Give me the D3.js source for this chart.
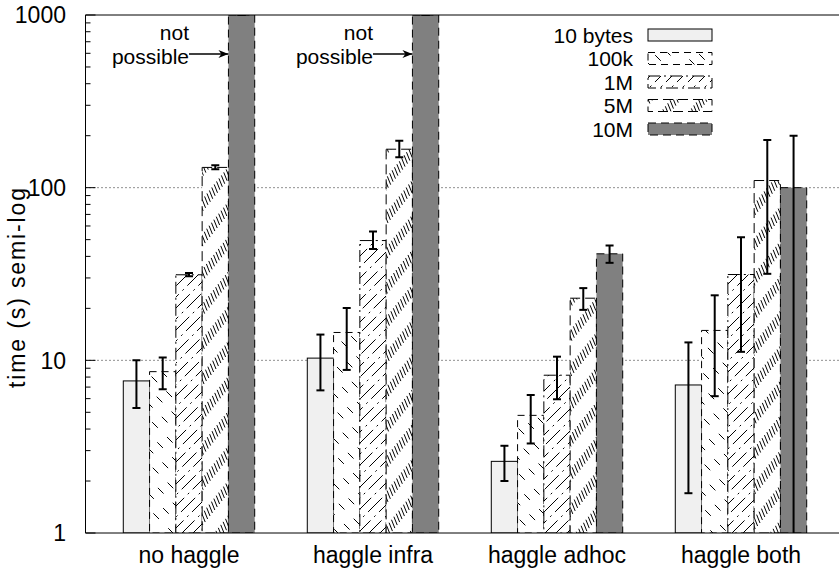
<!DOCTYPE html>
<html><head><meta charset="utf-8">
<script src="https://cdn.jsdelivr.net/npm/d3@7"></script>
<style>body{margin:0;background:#fff}svg{display:block;font-family:"Liberation Sans",Arial,Helvetica,sans-serif}</style>
</head><body><svg id="c" width="839" height="572"></svg>
<script>
// ---------- data ----------
const categories = ["no haggle", "haggle infra", "haggle adhoc", "haggle both"];
const seriesNames = ["10 bytes", "100k", "1M", "5M", "10M"];
const val10b  = [7.6, 10.3, 2.6, 7.2];
const val100k = [8.6, 14.5, 4.8, 14.9];
const val1M   = [31.3, 49.4, 8.2, 31.4];
const val5M   = [131, 167, 22.9, 110];
const val10M  = [1000, 1000, 41.4, 100];
const lo10b  = [5.3, 6.7, 2.0, 1.7];
const lo100k = [6.8, 8.8, 3.3, 6.2];
const lo1M   = [30.7, 44.2, 5.95, 11.2];
const lo5M   = [128, 150, 19.6, 31.7];
const lo10M  = [1000, 1000, 36.7, 0.5];
const hi10b  = [10, 14.1, 3.2, 12.7];
const hi100k = [10.4, 20.1, 6.3, 23.8];
const hi1M   = [32, 55.7, 10.5, 51.6];
const hi5M   = [135, 187, 26.2, 189];
const hi10M  = [1000, 1000, 46.2, 200];
const yTickValues = [1, 10, 100, 1000];
const yTickLabels = ["1", "10", "100", "1000"];
const yAxisTitle = "time (s) semi-log";
const noteText = ["not", "possible"];
const noteCats = [0, 1];

const values = [val10b, val100k, val1M, val5M, val10M];
const lows = [lo10b, lo100k, lo1M, lo5M, lo10M];
const highs = [hi10b, hi100k, hi1M, hi5M, hi10M];

// ---------- styles ----------
const styles = [
  {fill: "#f0f0f0", dash: null, hatch: null},
  {fill: "#ffffff", dash: "7,5", hatch: {k: 1, sp: 15, dash: "8,13", sw: 1, shift: 0.5}},
  {fill: "#ffffff", dash: "12,4,2,4", hatch: {k: -1, sp: 11, dash: "20,5,2,5", sw: 1}},
  {fill: "#ffffff", dash: "10,5", hatch: {k: 0.4, sp: 3.6, dash: "9,16", sw: 1, shift: 0.9}},
  {fill: "#808080", dash: "8,5", hatch: null}
];

const svg = d3.select("#c");
const FS = 23, FS2 = 21;
const pTop = 15, pBottom = 533, pLeft = 85.5;
const W = 839;

const y = d3.scaleLog().domain([1, 1000]).range([pBottom, pTop]);
const x = d3.scaleLinear().domain([-0.5625, 3.6]).range([pLeft, pLeft + 184 * 4.1625]);
const bw = (x(1) - x(0)) / 7;

const defs = svg.append("defs");
const plotClip = defs.append("clipPath").attr("id", "plotclip");
plotClip.append("rect").attr("x", pLeft).attr("y", pTop).attr("width", 900).attr("height", pBottom - pTop);

// grid
const grid = svg.append("g");
[10, 100].forEach(v => {
  grid.append("line").attr("x1", pLeft).attr("x2", 900).attr("y1", y(v)).attr("y2", y(v))
    .attr("stroke", "#222").attr("stroke-width", 1).attr("stroke-dasharray", "1,3");
});

let clipCount = 0;
function drawBox(g, x0, y0, w, h, st) {
  g.append("rect").attr("x", x0).attr("y", y0).attr("width", w).attr("height", h)
    .attr("fill", st.fill).attr("stroke", "none");
  if (st.hatch) {
    const hs = st.hatch;
    const id = "hc" + (clipCount++);
    defs.append("clipPath").attr("id", id).append("rect")
      .attr("x", x0).attr("y", y0).attr("width", w).attr("height", h);
    const hg = g.append("g").attr("clip-path", `url(#${id})`);
    const corners = [[x0, y0], [x0 + w, y0], [x0, y0 + h], [x0 + w, y0 + h]].map(p => p[0] - hs.k * p[1]);
    const cmin = Math.floor(d3.min(corners) / hs.sp) * hs.sp, cmax = d3.max(corners);
    const lf = Math.sqrt(1 + hs.k * hs.k);
    const period = hs.dash.split(",").map(Number).reduce((a, b) => a + b, 0);
    for (let c = cmin; c <= cmax + hs.sp; c += hs.sp) {
      const ya = y0 - 2, yb = y0 + h + 2;
      const off = ((ya * lf + (hs.shift || 0) * c) % period + period) % period;
      hg.append("line")
        .attr("x1", c + hs.k * ya).attr("y1", ya)
        .attr("x2", c + hs.k * yb).attr("y2", yb)
        .attr("stroke", "#000").attr("stroke-width", hs.sw)
        .attr("stroke-dasharray", hs.dash).attr("stroke-dashoffset", off);
    }
  }
  g.append("rect").attr("x", x0).attr("y", y0).attr("width", w).attr("height", h)
    .attr("fill", "none").attr("stroke", "#000").attr("stroke-width", 1)
    .attr("stroke-dasharray", st.dash);
}

// bars
const barsG = svg.append("g").attr("clip-path", "url(#plotclip)");
seriesNames.forEach((s, j) => {
  categories.forEach((c, i) => {
    const v = values[j][i];
    const x0 = x(i) + (j - 2.5) * bw;
    drawBox(barsG, x0, y(v), bw, pBottom - y(v), styles[j]);
  });
});

// error bars
const errG = svg.append("g").attr("clip-path", "url(#plotclip)");
seriesNames.forEach((s, j) => {
  categories.forEach((c, i) => {
    const cx = x(i) + (j - 2) * bw;
    const y1 = y(Math.max(lows[j][i], 0.1)), y2 = y(highs[j][i]);
    errG.append("line").attr("x1", cx).attr("x2", cx).attr("y1", y1).attr("y2", y2)
      .attr("stroke", "#000").attr("stroke-width", 2);
    [y1, y2].forEach(yy => errG.append("line").attr("x1", cx - 4).attr("x2", cx + 4)
      .attr("y1", yy).attr("y2", yy).attr("stroke", "#000").attr("stroke-width", 2));
  });
});

// frame
svg.append("line").attr("x1", pLeft).attr("x2", W).attr("y1", pTop).attr("y2", pTop).attr("stroke", "#000");
svg.append("line").attr("x1", pLeft).attr("x2", W).attr("y1", pBottom).attr("y2", pBottom).attr("stroke", "#000");
svg.append("line").attr("x1", pLeft).attr("x2", pLeft).attr("y1", pTop).attr("y2", pBottom).attr("stroke", "#000");

// y ticks
const tg = svg.append("g");
for (let d = 0; d < 3; d++) {
  for (let m = 2; m <= 9; m++) {
    const v = m * Math.pow(10, d);
    tg.append("line").attr("x1", pLeft).attr("x2", pLeft + 5).attr("y1", y(v)).attr("y2", y(v)).attr("stroke", "#000");
  }
}
yTickValues.forEach((v, i) => {
  tg.append("line").attr("x1", pLeft).attr("x2", pLeft + 10).attr("y1", y(v)).attr("y2", y(v)).attr("stroke", "#000");
  tg.append("text").attr("x", 66).attr("y", y(v)).attr("dy", "0.36em").attr("text-anchor", "end")
    .attr("font-size", FS).text(yTickLabels[i]);
});

// x labels
categories.forEach((c, i) => {
  svg.append("text").attr("x", x(i)).attr("y", 563).attr("text-anchor", "middle")
    .attr("font-size", FS).text(c);
});

// y title
svg.append("text").attr("transform", `translate(25,288) rotate(-90)`)
  .attr("text-anchor", "middle").attr("font-size", FS)
  .attr("textLength", 200).attr("lengthAdjust", "spacing").text(yAxisTitle);

// annotations
defs.append("marker").attr("id", "arr").attr("viewBox", "0 0 10 10").attr("refX", 10).attr("refY", 5)
  .attr("markerWidth", 14).attr("markerHeight", 10).attr("markerUnits", "userSpaceOnUse").attr("orient", "auto")
  .append("path").attr("d", "M0,1 L10,5 L0,9 L3,5 Z").attr("fill", "#000");
noteCats.forEach(i => {
  const tx = x(i);
  svg.append("text").attr("x", tx).attr("y", 39.5).attr("text-anchor", "end").attr("font-size", FS2).text(noteText[0]);
  svg.append("text").attr("x", tx).attr("y", 63.5).attr("text-anchor", "end").attr("font-size", FS2).text(noteText[1]);
  svg.append("line").attr("x1", tx).attr("x2", x(i) + 1.5 * bw).attr("y1", 54).attr("y2", 54)
    .attr("stroke", "#000").attr("stroke-width", 1.5).attr("marker-end", "url(#arr)");
});

// legend
const lg = svg.append("g");
seriesNames.forEach((s, j) => {
  const cy = 35 + j * 23.5;
  lg.append("text").attr("x", 633).attr("y", cy).attr("dy", "0.36em").attr("text-anchor", "end")
    .attr("font-size", FS2).text(s);
  drawBox(lg, 648, cy - 6, 64, 12, styles[j]);
});
</script></body></html>
